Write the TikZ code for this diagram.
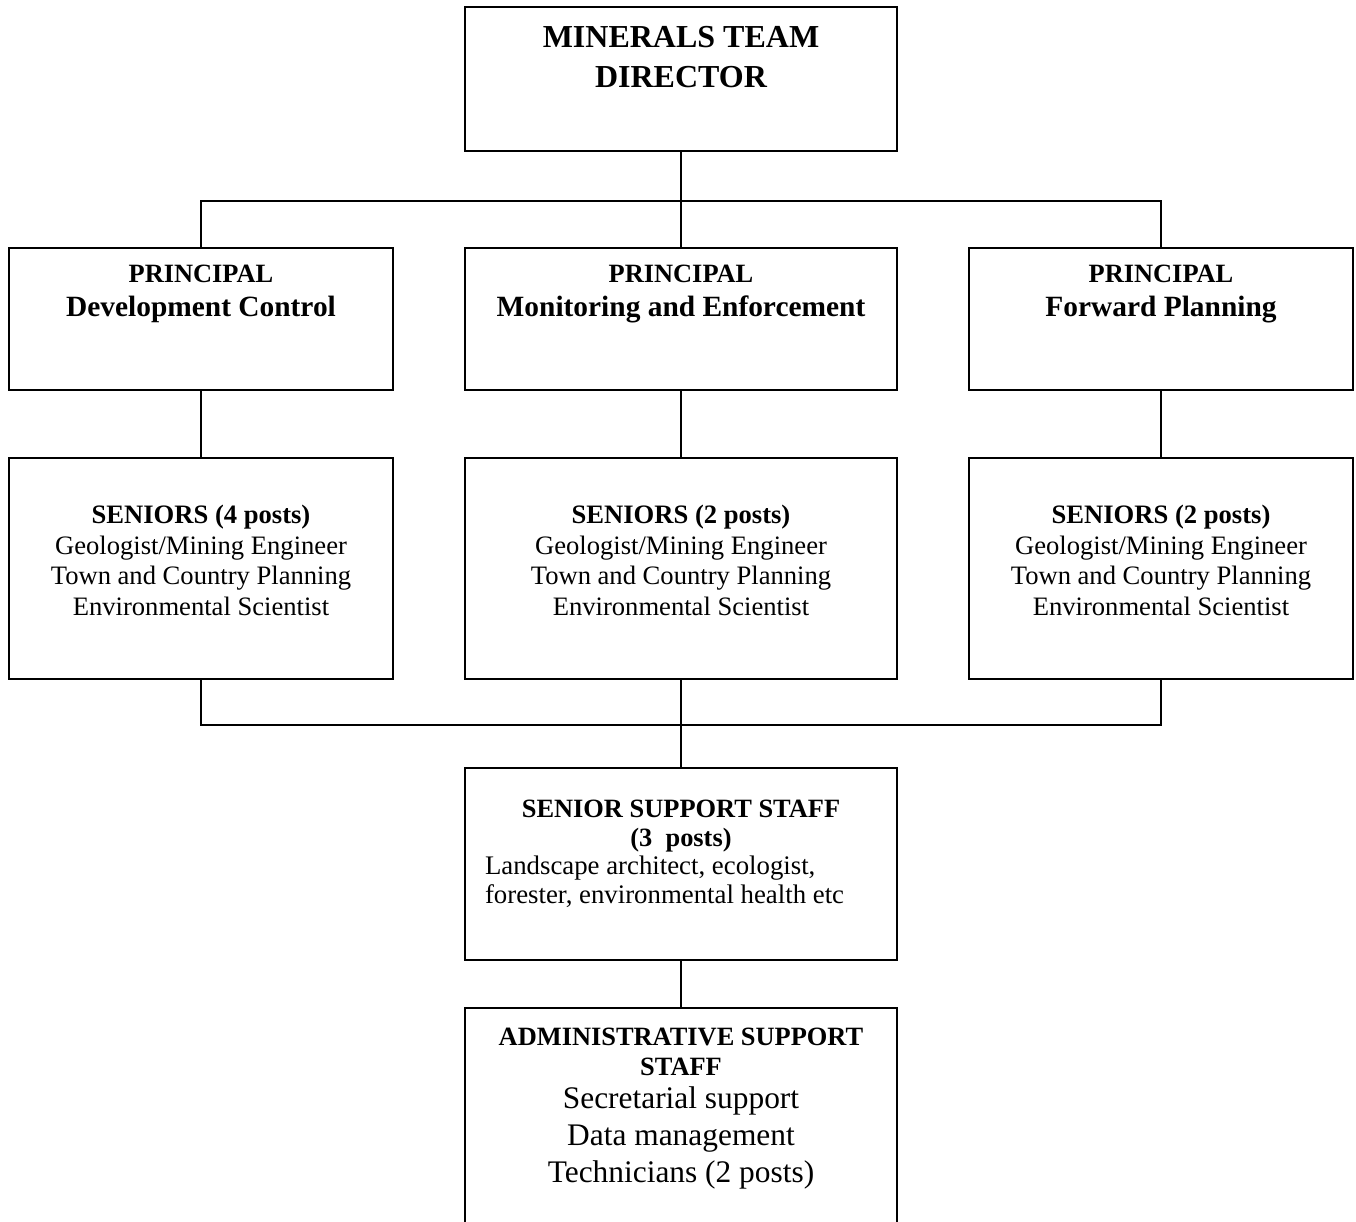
\documentclass[tikz,border=0pt]{standalone}
\usepackage{fontspec}
\setmainfont{Liberation Serif}
\begin{document}
\begin{tikzpicture}[x=0.5pt,y=-0.5pt,
  box/.style={draw,line width=1pt,rectangle,inner sep=0pt,outer sep=0pt},
  wbox/.style={box,minimum width=216pt},
  nbox/.style={box,minimum width=192pt},
  txt/.style={anchor=base,inner sep=0pt,outer sep=0pt},
  ltxt/.style={anchor=base west,inner sep=0pt,outer sep=0pt},
  link/.style={line width=1pt}]
\useasboundingbox (0,0) rectangle (1356,1222);
\clip (0,0) rectangle (1356,1222);
% boxes
\node[wbox,minimum height=72pt] (dir) at (681,79) {};
\node[nbox,minimum height=71pt] (p1) at (201,319) {};
\node[wbox,minimum height=71pt] (p2) at (681,319) {};
\node[nbox,minimum height=71pt] (p3) at (1161,319) {};
\node[nbox,minimum height=110.5pt] (s1) at (201,568.5) {};
\node[wbox,minimum height=110.5pt] (s2) at (681,568.5) {};
\node[nbox,minimum height=110.5pt] (s3) at (1161,568.5) {};
\node[wbox,minimum height=96pt] (ss) at (681,864) {};
\node[wbox,minimum height=120pt] (ad) at (681,1128) {};
% connectors
\coordinate (top) at (681,201);
\coordinate (bot) at (681,725);
\draw[link] (dir.south) -- (top);
\draw[link] (p1.north) |- (top) -| (p3.north);
\draw[link] (top) -- (p2.north);
\draw[link] (p1.south) -- (s1.north);
\draw[link] (p2.south) -- (s2.north);
\draw[link] (p3.south) -- (s3.north);
\draw[link] (s1.south) |- (bot) -| (s3.south);
\draw[link] (s2.south) -- (ss.north);
\draw[link] (ss.south) -- (ad.north);
% director text
\node[txt,font=\bfseries\fontsize{16}{18}\selectfont] (d1) at (681,47) {MINERALS TEAM};
\node[txt,font=\bfseries\fontsize{16}{18}\selectfont] (d2) at (681,87) {DIRECTOR};
% principal texts
\foreach \x/\n/\t in {201/a/Development Control,681/b/Monitoring and Enforcement,1161/c/Forward Planning}{
  \node[txt,font=\bfseries\fontsize{13.2}{15}\selectfont] (pa\n) at (\x,282) {PRINCIPAL};
  \node[txt,font=\bfseries\fontsize{14.7}{17}\selectfont] (pb\n) at (\x,316) {\t};
}
% seniors texts
\foreach \x/\n/\k in {201/a/4,681/b/2,1161/c/2}{
  \node[txt,font=\bfseries\fontsize{13.3}{15}\selectfont] (sa\n) at (\x,523) {SENIORS (\k\ posts)};
  \node[txt,font=\fontsize{13.3}{15}\selectfont] (sb\n) at (\x,554) {Geologist/Mining Engineer};
  \node[txt,font=\fontsize{13.3}{15}\selectfont] (sc\n) at (\x,584) {Town and Country Planning};
  \node[txt,font=\fontsize{13.3}{15}\selectfont] (sd\n) at (\x,615) {Environmental Scientist};
}
% senior support
\node[txt,font=\bfseries\fontsize{13.2}{15}\selectfont] (ss1) at (681,817) {SENIOR SUPPORT STAFF};
\node[txt,font=\bfseries\fontsize{13.2}{15}\selectfont] (ss2) at (681,846) {(3\ \ posts)};
\node[ltxt,font=\fontsize{13.4}{16}\selectfont] (ss3) at (485,874) {Landscape architect, ecologist,};
\node[ltxt,font=\fontsize{13.4}{16}\selectfont] (ss4) at (485,903) {forester, environmental health etc};
% admin
\node[txt,font=\bfseries\fontsize{13.2}{15}\selectfont] (ad1) at (681,1045) {ADMINISTRATIVE SUPPORT};
\node[txt,font=\bfseries\fontsize{13.2}{15}\selectfont] (ad2) at (681,1075) {STAFF};
\node[txt,font=\fontsize{15.7}{18}\selectfont] (ad3) at (681,1108) {Secretarial support};
\node[txt,font=\fontsize{15.7}{18}\selectfont] (ad4) at (681,1145) {Data management};
\node[txt,font=\fontsize{15.7}{18}\selectfont] (ad5) at (681,1182) {Technicians (2 posts)};
\end{tikzpicture}
\end{document}
